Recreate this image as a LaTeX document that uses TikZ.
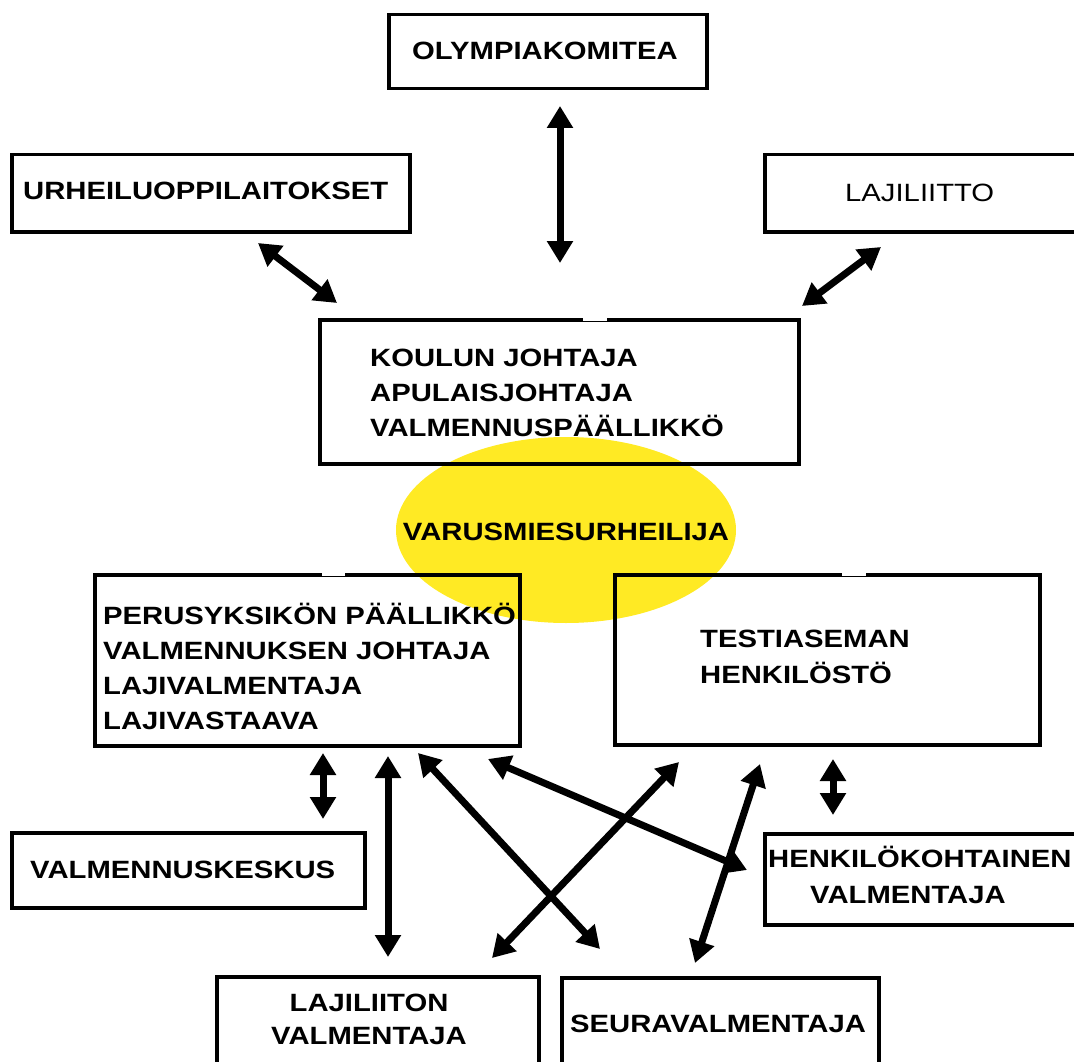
\documentclass[tikz,border=0pt]{standalone}
\usepackage{fontspec}
\setmainfont{Liberation Sans}
\newfontfamily\lsans[FakeStretch=1.17]{Liberation Sans}
\usetikzlibrary{arrows.meta}
\definecolor{ylw}{RGB}{255,234,36}
\begin{document}
\begin{tikzpicture}[x=1pt,y=-1pt,
  box/.style={draw=black,line width=3.5pt,anchor=north west,inner sep=0pt},
  txt/.style={inner sep=0pt,align=left,text depth=0pt,anchor=south west,
    font=\lsans\bfseries\fontsize{25pt}{35pt}\selectfont},
  conn/.style={line width=7pt,{Triangle[width=25pt,length=22pt]}-{Triangle[width=25pt,length=22pt]}},
  gap/.style={draw=white,line width=5pt}]
\useasboundingbox (0,0) rectangle (1074,1062);
\clip (0,0) rectangle (1074,1062);
% central ellipse
\fill[ylw] (566,530) ellipse [x radius=170, y radius=93];
\node[txt,anchor=base] (var) at (566,540) {VARUSMIESURHEILIJA};
% boxes
\node[box,minimum width=318pt,minimum height=74pt] (oly) at (387,13) {};
\node[box,minimum width=398pt,minimum height=77pt] (urh) at (10,153) {};
\node[box,minimum width=330pt,minimum height=77pt] (laj) at (763,153) {};
\node[box,minimum width=479pt,minimum height=144pt] (kou) at (318,318) {};
\node[box,minimum width=425pt,minimum height=171pt] (per) at (93,573) {};
\node[box,minimum width=425pt,minimum height=170pt] (tes) at (613,573) {};
\node[box,minimum width=353pt,minimum height=75pt] (val) at (10,831) {};
\node[box,minimum width=330pt,minimum height=91pt] (hen) at (763,832) {};
\node[box,minimum width=322pt,minimum height=110pt] (ljv) at (215,975) {};
\node[box,minimum width=317pt,minimum height=110pt] (seu) at (560,976) {};
% small gaps in top edges
\draw[gap] (583,318) -- (607,318);
\draw[gap] (322,573) -- (345,573);
\draw[gap] (842,573) -- (866,573);
% texts
\node[txt] (olyt) at (412,60) {OLYMPIAKOMITEA};
\node[txt] (urht) at (23,200) {URHEILUOPPILAITOKSET};
\node[txt,font=\lsans\fontsize{25pt}{35pt}\selectfont] (lajt) at (845,202) {LAJILIITTO};
\node[txt] (kout) at (370,437) {KOULUN JOHTAJA\\APULAISJOHTAJA\\VALMENNUSPÄÄLLIKKÖ};
\node[txt] (pert) at (103,730) {PERUSYKSIKÖN PÄÄLLIKKÖ\\VALMENNUKSEN JOHTAJA\\LAJIVALMENTAJA\\LAJIVASTAAVA};
\node[txt,font=\lsans\bfseries\fontsize{25pt}{36pt}\selectfont] (test) at (700,684) {TESTIASEMAN\\HENKILÖSTÖ};
\node[txt] (valt) at (30,879) {VALMENNUSKESKUS};
\node[txt,font=\lsans\bfseries\fontsize{25pt}{36pt}\selectfont] (hent) at (768,904) {HENKILÖKOHTAINEN\\\hspace*{42pt}VALMENTAJA};
\node[txt,anchor=south,align=center,font=\lsans\bfseries\fontsize{25pt}{33pt}\selectfont] (ljvt) at (369,1045) {LAJILIITON\\VALMENTAJA};
\node[txt] (seut) at (570,1033) {SEURAVALMENTAJA};
% connector end points
\coordinate (a1s) at (560,106); \coordinate (a1e) at (560,263);
\coordinate (a2s) at (258,243); \coordinate (a2e) at (337,303);
\coordinate (a3s) at (881,247); \coordinate (a3e) at (802,306);
\coordinate (a4s) at (323,753); \coordinate (a4e) at (323,819);
\coordinate (a5s) at (388,756); \coordinate (a5e) at (388,957);
\coordinate (a6s) at (418,753); \coordinate (a6e) at (600,949);
\coordinate (a7s) at (488,759); \coordinate (a7e) at (747,870);
\coordinate (a8s) at (492,958); \coordinate (a8e) at (679,762);
\coordinate (a9s) at (695,963); \coordinate (a9e) at (760,764);
\coordinate (a10s) at (833,759); \coordinate (a10e) at (833,815);
% connectors
\draw[conn] (a1s) -- (a1e);
\draw[conn] (a2s) -- (a2e);
\draw[conn] (a3s) -- (a3e);
\draw[conn] (a4s) -- (a4e);
\draw[conn] (a5s) -- (a5e);
\draw[conn] (a6s) -- (a6e);
\draw[conn] (a7s) -- (a7e);
\draw[conn] (a8s) -- (a8e);
\draw[conn] (a9s) -- (a9e);
\draw[conn] (a10s) -- (a10e);
\end{tikzpicture}
\end{document}
